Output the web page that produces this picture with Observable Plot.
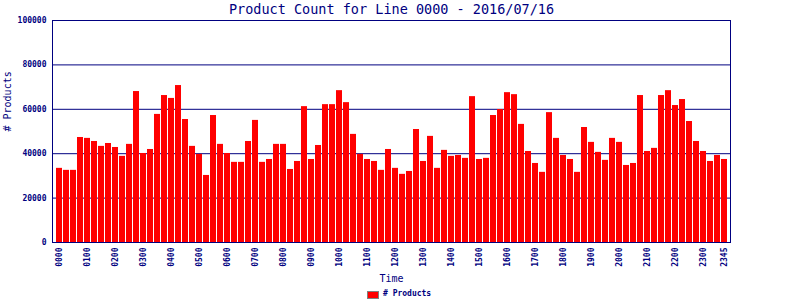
<!DOCTYPE html>
<html>
<head>
<meta charset="utf-8">
<script src="https://cdn.jsdelivr.net/npm/d3@7"></script>
<script src="https://cdn.jsdelivr.net/npm/@observablehq/plot@0.6"></script>
<style>
  html, body { margin: 0; padding: 0; background: #fff; }
  #chart svg { display: block; overflow: visible; }
  #legend { height: 15px; position: relative; font-family: "DejaVu Sans Mono", monospace; font-size: 8px; color: #000080; }
  #legend .sw { position: absolute; left: 367px; top: 6px; width: 10px; height: 6px; background: #ff0000; border: 1px solid #808080; }
  #legend .lb { position: absolute; left: 383px; top: 4px; line-height: 10px; font-weight: bold; }
</style>
</head>
<body>
<div id="chart"></div>
<div id="legend"><span class="sw"></span><span class="lb"># Products</span></div>
<script>
const title = "Product Count for Line 0000 - 2016/07/16";
const xTitle = "Time";
const yTitle = "# Products";
const seriesName = "# Products";

// 15-minute slots 0000..2345
const times = [
  "0000","0015","0030","0045","0100","0115","0130","0145","0200","0215","0230","0245",
  "0300","0315","0330","0345","0400","0415","0430","0445","0500","0515","0530","0545",
  "0600","0615","0630","0645","0700","0715","0730","0745","0800","0815","0830","0845",
  "0900","0915","0930","0945","1000","1015","1030","1045","1100","1115","1130","1145",
  "1200","1215","1230","1245","1300","1315","1330","1345","1400","1415","1430","1445",
  "1500","1515","1530","1545","1600","1615","1630","1645","1700","1715","1730","1745",
  "1800","1815","1830","1845","1900","1915","1930","1945","2000","2015","2030","2045",
  "2100","2115","2130","2145","2200","2215","2230","2245","2300","2315","2330","2345"
];

const products = [
  33400, 32500, 32500, 47300, 46900, 45500, 43300, 44600, 42800, 38800, 44200, 68000,
  40100, 41900, 57700, 66200, 64900, 70700, 55400, 43300, 39700, 30200, 57200, 44200,
  40100, 36100, 36100, 45500, 55000, 36100, 37400, 44200, 44200, 32900, 36500, 61200,
  37400, 43700, 62100, 62100, 68400, 63000, 48700, 39700, 37400, 36500, 32500, 41900,
  33400, 30700, 32000, 50900, 36500, 47800, 33400, 41500, 38800, 39200, 37900, 65700,
  37400, 37900, 57200, 59900, 67500, 66600, 53200, 41000, 35600, 31600, 58500, 46900,
  39200, 37400, 31600, 51800, 45100, 40600, 37000, 46900, 45100, 34700, 35600, 66200,
  41000, 42400, 66200, 68400, 61700, 64400, 54500, 45500, 41000, 36500, 39200, 37400
];

const xTickLabels = [
  "0000","0100","0200","0300","0400","0500","0600","0700","0800","0900","1000","1100",
  "1200","1300","1400","1500","1600","1700","1800","1900","2000","2100","2200","2300","2345"
];
const yTickValues = [0, 20000, 40000, 60000, 80000, 100000];

const data = times.map((t, i) => ({time: t, value: products[i]}));

const navy = "#000080";
const mono = "DejaVu Sans Mono, monospace";

const chart = Plot.plot({
  width: 800,
  height: 285,
  marginTop: 20,
  marginBottom: 43,
  marginLeft: 52,
  marginRight: 70,
  style: {fontFamily: mono, color: navy, background: "white"},
  x: {domain: times, insetLeft: 3, insetRight: 2, paddingInner: 0.143, paddingOuter: 0.07, label: null},
  y: {domain: [0, 100000], label: null},
  marks: [
    Plot.gridY(yTickValues, {stroke: navy, strokeOpacity: 1, strokeWidth: 1}),
    Plot.frame({stroke: navy, strokeWidth: 1}),
    Plot.barY(data, {x: "time", y: "value", fill: "#ff0000"}),
    Plot.axisY({ticks: yTickValues, tickSize: 0, tickPadding: 6, tickFormat: d => String(d), fontSize: 8, fontWeight: "bold", fill: navy}),
    Plot.axisX({ticks: xTickLabels, tickSize: 0, tickPadding: 5, tickRotate: -90, fontSize: 8, fontWeight: "bold", fill: navy}),
    Plot.text([title], {text: d => d, frameAnchor: "top", dy: -11, fontSize: 13.5, fill: navy, fontFamily: mono, lineAnchor: "middle"}),
    Plot.text([xTitle], {text: d => d, frameAnchor: "bottom", dy: 36, fontSize: 10, fill: navy, fontFamily: mono, lineAnchor: "middle"}),
    Plot.text([yTitle], {text: d => d, frameAnchor: "left", dx: -45, rotate: -90, fontSize: 10, fill: navy, fontFamily: mono, lineAnchor: "middle"})
  ]
});
document.getElementById("chart").appendChild(chart);
</script>
</body>
</html>
